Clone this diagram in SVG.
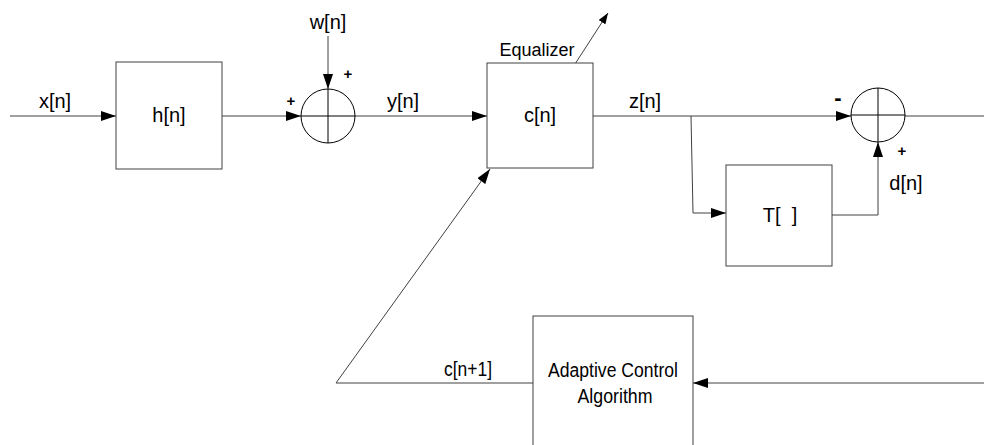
<svg xmlns="http://www.w3.org/2000/svg" width="984" height="445" viewBox="0 0 984 445">
<defs>
<marker id="ah" viewBox="0 0 15 10" refX="15" refY="5" markerWidth="15" markerHeight="10" markerUnits="userSpaceOnUse" orient="auto">
<path d="M0,0 L15,5 L0,10 Z" fill="#000"/>
</marker>
<marker id="ahs" viewBox="0 0 11 8" refX="11" refY="4" markerWidth="11" markerHeight="8" markerUnits="userSpaceOnUse" orient="auto">
<path d="M0,0 L11,4 L0,8 Z" fill="#000"/>
</marker>
</defs>
<style>
.box{fill:#fff;stroke:#404040;stroke-width:1}
.sum{fill:none;stroke:#000;stroke-width:1}
.wire{fill:none;stroke:#404040;stroke-width:1}
.t{font-family:"Liberation Sans",Arial,sans-serif;font-size:20px;fill:#000}
.s{font-family:"Liberation Sans",Arial,sans-serif;font-size:18px;fill:#000}
.p{font-family:"Liberation Sans",Arial,sans-serif;font-size:15px;font-weight:bold;fill:#000}
.m{font-family:"Liberation Sans",Arial,sans-serif;font-size:22px;font-weight:bold;fill:#000}
</style>
<rect width="984" height="445" fill="#fff"/>
<g id="connectors">
<line class="wire" x1="10" y1="116" x2="116" y2="116" marker-end="url(#ah)"/>
<line class="wire" x1="222" y1="116" x2="301" y2="116" marker-end="url(#ah)"/>
<line class="wire" x1="328" y1="36" x2="328" y2="89" marker-end="url(#ah)"/>
<line class="wire" x1="355" y1="116" x2="487" y2="116" marker-end="url(#ah)"/>
<line class="wire" x1="593" y1="116" x2="851" y2="116" marker-end="url(#ah)"/>
<polyline class="wire" points="691,116 693,213 726,213" marker-end="url(#ah)"/>
<polyline class="wire" points="832,215 878,215 878,142" marker-end="url(#ah)"/>
<line class="wire" x1="905" y1="116" x2="984" y2="116"/>
<line class="wire" x1="575" y1="64" x2="608" y2="13" marker-end="url(#ahs)"/>
<polyline class="wire" points="533,383 336,383 490,169" marker-end="url(#ah)"/>
<line class="wire" x1="984" y1="383" x2="693" y2="383" marker-end="url(#ah)"/>
</g>
<g id="h">
<rect class="box" x="116" y="62" width="106" height="107"/>
<text class="t" x="169" y="122" text-anchor="middle">h[n]</text>
</g>
<g id="sum1">
<circle class="sum" cx="328" cy="116" r="27"/>
<line class="sum" x1="328" y1="89" x2="328" y2="143"/>
<line class="sum" x1="301" y1="116" x2="355" y2="116"/>
</g>
<g id="c">
<rect class="box" x="487" y="63" width="106" height="105"/>
<text class="t" x="540" y="122" text-anchor="middle">c[n]</text>
</g>
<g id="sum2">
<circle class="sum" cx="878" cy="115" r="27"/>
<line class="sum" x1="878" y1="88" x2="878" y2="142"/>
<line class="sum" x1="851" y1="115" x2="905" y2="115"/>
</g>
<g id="T">
<rect class="box" x="726" y="165" width="106" height="101"/>
<text class="t" x="780" y="222" text-anchor="middle" xml:space="preserve">T[  ]</text>
</g>
<g id="adaptive">
<rect class="box" x="533" y="316" width="160" height="140"/>
<text class="t" x="613" y="377" text-anchor="middle" textLength="130" lengthAdjust="spacingAndGlyphs">Adaptive Control</text>
<text class="t" x="615" y="403" text-anchor="middle" textLength="75" lengthAdjust="spacingAndGlyphs">Algorithm</text>
</g>
<g id="labels">
<text class="t" x="55" y="108" text-anchor="middle">x[n]</text>
<text class="t" x="328" y="29" text-anchor="middle">w[n]</text>
<text class="p" x="348" y="79" text-anchor="middle">+</text>
<text class="p" x="291" y="106" text-anchor="middle">+</text>
<text class="t" x="403" y="108" text-anchor="middle">y[n]</text>
<text class="s" x="537" y="56" text-anchor="middle">Equalizer</text>
<text class="t" x="645" y="108" text-anchor="middle">z[n]</text>
<text class="m" x="838" y="105" text-anchor="middle">-</text>
<text class="p" x="902" y="156" text-anchor="middle">+</text>
<text class="t" x="906" y="190" text-anchor="middle">d[n]</text>
<text class="t" x="468" y="376" text-anchor="middle" textLength="48" lengthAdjust="spacingAndGlyphs">c[n+1]</text>
</g>
</svg>
